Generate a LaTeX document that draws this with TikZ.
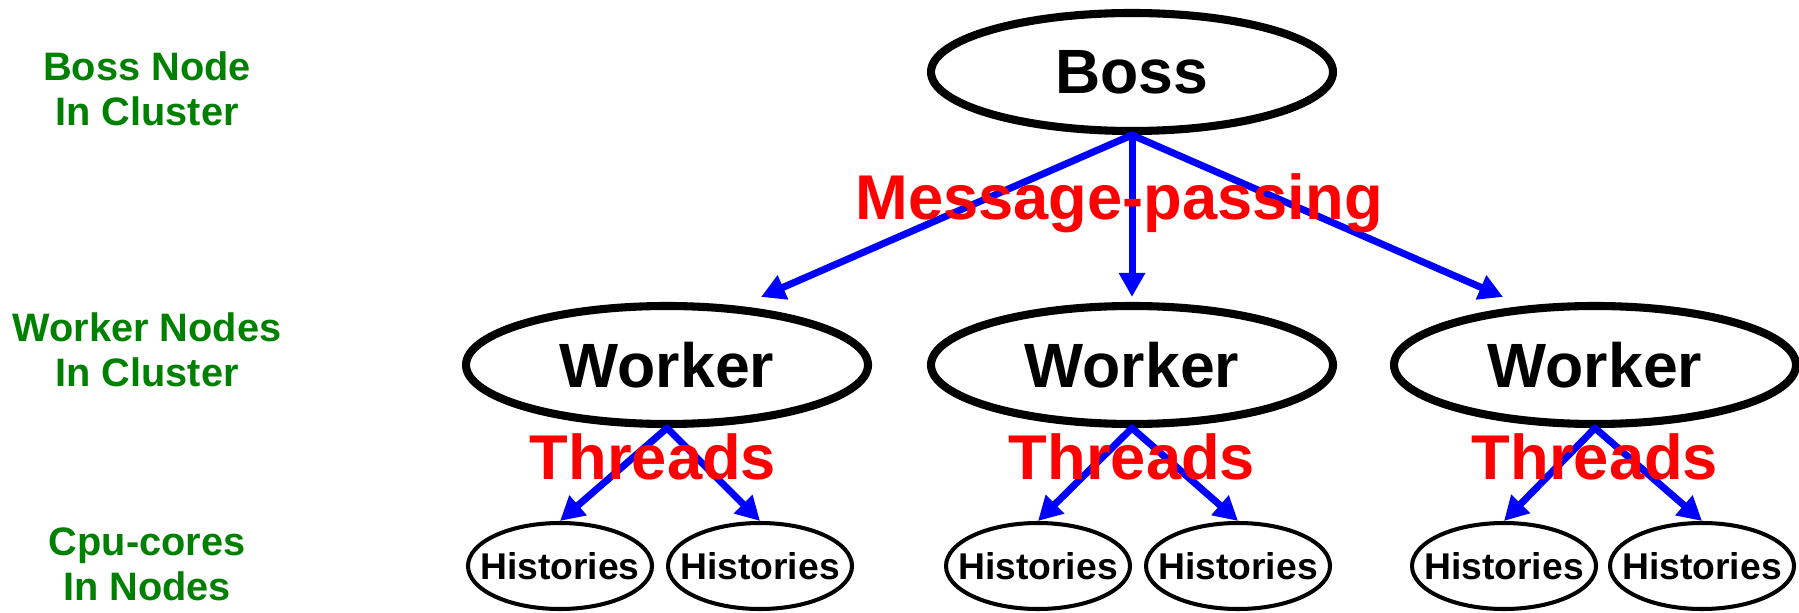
\documentclass[tikz,border=0pt]{standalone}
\usepackage{fontspec}
\setmainfont{Liberation Sans}
\usetikzlibrary{arrows.meta,shapes.geometric}

\begin{document}
\begin{tikzpicture}[line cap=round,line join=round,
  bignode/.style={ellipse,draw,line width=2.3pt,minimum width=4.02cm,minimum height=1.18cm,
    inner sep=0pt,font=\fontsize{17.8}{20}\selectfont\bfseries},
  coreleaf/.style={ellipse,draw,line width=1.15pt,minimum width=1.84cm,minimum height=0.86cm,
    inner xsep=-0.25cm,inner ysep=0pt,font=\fontsize{10.6}{12}\selectfont\bfseries},
  linkarrow/.style={draw=blue,line width=2pt,-{Triangle[length=0.24cm,width=0.25cm]}},
  redlabel/.style={text=red,anchor=base,inner sep=0pt,font=\fontsize{18}{20}\selectfont\bfseries},
  levellabel/.style={text=green!50!black,align=center,inner sep=0pt,
    font=\fontsize{11.3}{12.8}\selectfont\bfseries}]
  \useasboundingbox (0,0) rectangle (17.99,6.12);
  \node[bignode] (boss) at (11.32,5.40) {Boss};
  \node[bignode] (w1) at (6.67,2.47) {Worker};
  \node[bignode] (w2) at (11.32,2.47) {Worker};
  \node[bignode] (w3) at (15.95,2.47) {Worker};
  \node[coreleaf] (h11) at (5.60,0.46) {Histories};
  \node[coreleaf] (h12) at (7.60,0.46) {Histories};
  \node[coreleaf] (h21) at (10.38,0.46) {Histories};
  \node[coreleaf] (h22) at (12.38,0.46) {Histories};
  \node[coreleaf] (h31) at (15.04,0.46) {Histories};
  \node[coreleaf] (h32) at (17.02,0.46) {Histories};
  \draw[linkarrow] (boss.south) -- ([xshift=0.94cm,yshift=0.05cm]w1.north);
  \draw[linkarrow] (boss.south) -- ([yshift=0.05cm]w2.north);
  \draw[linkarrow] (boss.south) -- ([xshift=-0.92cm,yshift=0.05cm]w3.north);
  \foreach \w in {1,2,3} {
    \draw[linkarrow] (w\w.south) -- (h\w1.north);
    \draw[linkarrow] (w\w.south) -- (h\w2.north);
  }
  \node[redlabel] (mp) at (11.19,3.92) {Message-passing};
  \node[redlabel] (th1) at (6.53,1.32) {Threads};
  \node[redlabel] (th2) at (11.32,1.32) {Threads};
  \node[redlabel] (th3) at (15.95,1.32) {Threads};
  \node[levellabel] (lv1) at (1.47,5.23) {Boss Node\\In Cluster};
  \node[levellabel] (lv2) at (1.47,2.62) {Worker Nodes\\In Cluster};
  \node[levellabel] (lv3) at (1.47,0.48) {Cpu-cores\\In Nodes};
\end{tikzpicture}
\end{document}
